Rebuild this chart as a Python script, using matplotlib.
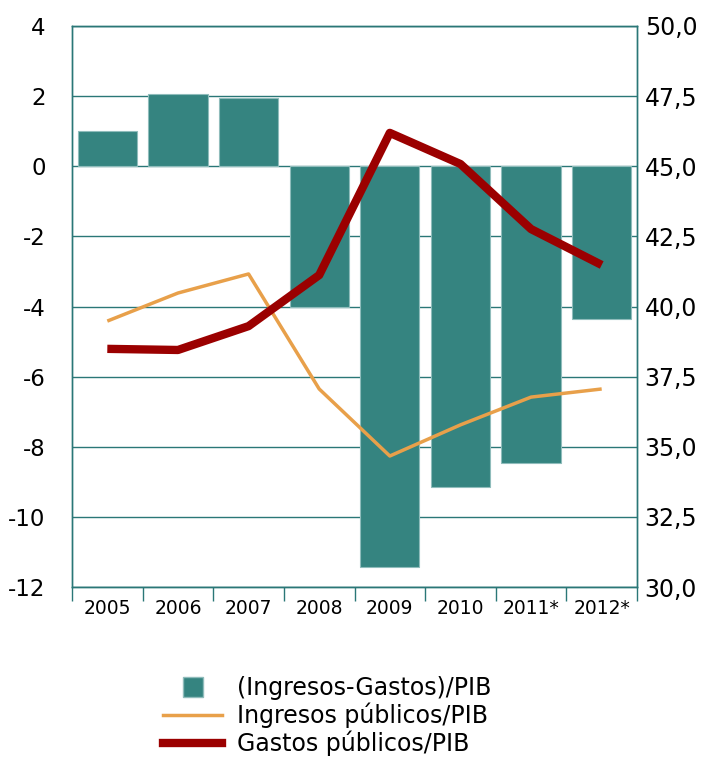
import matplotlib
matplotlib.use("Agg")
import matplotlib.pyplot as plt
from matplotlib.lines import Line2D
from matplotlib.ticker import FixedLocator, FuncFormatter

# --- Data ---------------------------------------------------------------
years = ["2005", "2006", "2007", "2008", "2009", "2010", "2011*", "2012*"]
saldo = [1.0, 2.05, 1.94, -4.02, -11.44, -9.16, -8.47, -4.36]      # (Ingresos-Gastos)/PIB
ingresos = [39.48, 40.48, 41.16, 37.06, 34.67, 35.78, 36.77, 37.06]
gastos = [38.49, 38.45, 39.30, 41.12, 46.19, 45.08, 42.76, 41.48]

TEAL = "#358480"
GRID = "#2a7777"
ORANGE = "#E8A04A"
RED = "#9B0000"

plt.rcParams["font.family"] = "DejaVu Sans"
plt.rcParams["axes.unicode_minus"] = False

fig = plt.figure(figsize=(7.14, 7.6), dpi=100)
ax = fig.add_axes([72 / 714, 1 - 587 / 760, (637 - 72) / 714, (587 - 26) / 760])
x = list(range(len(years)))

ax.bar(x, saldo, width=0.84, color=TEAL, edgecolor="#8fbcbb", linewidth=0.8, zorder=2)
ax.set_xlim(-0.5, len(years) - 0.5)
ax.set_ylim(-12, 4)
ax.set_yticks(range(-12, 5, 2))
ax.yaxis.grid(True, color=GRID, linewidth=1.0, zorder=0)
ax.set_axisbelow(True)
ax.tick_params(axis="y", length=0, labelsize=16.5, pad=19)
ax.set_xticks(x)
ax.set_xticklabels(years, fontsize=13.5)
ax.tick_params(axis="x", which="major", length=0, pad=9)
ax.xaxis.set_minor_locator(FixedLocator([i - 0.5 for i in range(len(years) + 1)]))
ax.tick_params(axis="x", which="minor", length=10, width=1, color=GRID, direction="out")
for s in ax.spines.values():
    s.set_color(GRID)
    s.set_linewidth(1.0)

ax2 = ax.twinx()
ax2.plot(x, ingresos, color=ORANGE, linewidth=2.5, solid_capstyle="butt", zorder=3)
ax2.plot(x, gastos, color=RED, linewidth=6, solid_capstyle="butt", zorder=4)
ax2.set_ylim(30, 50)
ax2.set_yticks([30, 32.5, 35, 37.5, 40, 42.5, 45, 47.5, 50])
ax2.yaxis.set_major_formatter(FuncFormatter(lambda v, p: f"{v:.1f}".replace(".", ",")))
ax2.tick_params(axis="y", length=0, labelsize=17, pad=5.5)
for s in ax2.spines.values():
    s.set_color(GRID)
    s.set_linewidth(1.0)

handles = [
    Line2D([], [], marker="s", linestyle="none", markersize=15, markerfacecolor=TEAL,
           markeredgecolor="#8fbcbb"),
    Line2D([], [], color=ORANGE, linewidth=2.5),
    Line2D([], [], color=RED, linewidth=6),
]
labels = ["(Ingresos-Gastos)/PIB", "Ingresos públicos/PIB", "Gastos públicos/PIB"]
fig.legend(handles, labels, loc="upper left", bbox_to_anchor=(154 / 714, 1 - 667 / 760),
           frameon=False, fontsize=17, handlelength=2.5, handletextpad=0.6,
           labelspacing=0.1, borderaxespad=0)

fig.savefig("out.png", dpi=100)
